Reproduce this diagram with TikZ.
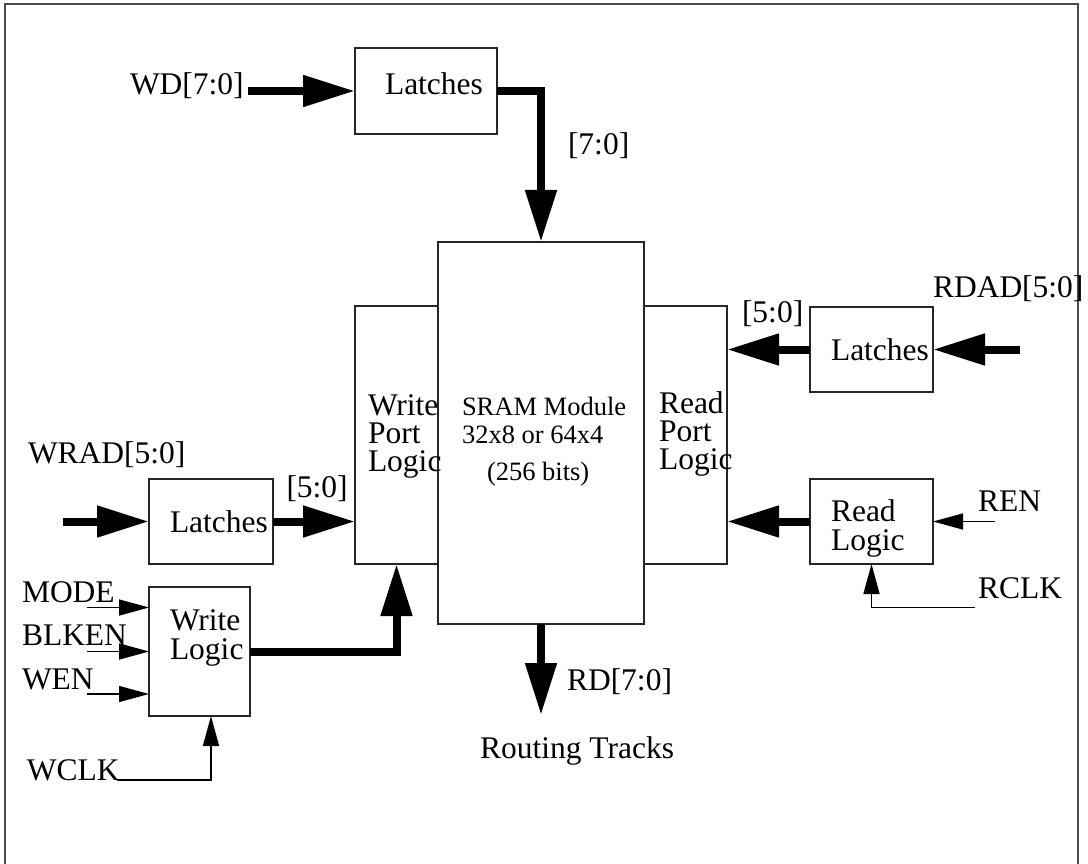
\documentclass[tikz,border=0pt]{standalone}
\usepackage{fontspec}
\setmainfont{Liberation Serif}
\usetikzlibrary{arrows.meta}
\begin{document}
\begin{tikzpicture}[x=1pt,y=-1pt,
  box/.style={draw=black!85,line width=1.5pt,inner sep=0,outer sep=0,anchor=north west},
  lbl/.style={anchor=base west,inner sep=0,outer sep=0,font=\fontsize{31.5}{28}\selectfont,align=left},
  small/.style={lbl,font=\fontsize{26.5}{28}\selectfont},
  bus/.style={line width=8pt,-{Triangle[length=52pt,width=30pt]}},
  sig/.style={line width=1.5pt,-{Triangle[length=30pt,width=16pt]}}]
\clip (0,0) rectangle (1088,864);
\draw[black!70,line width=2pt] (4.5,4.5) rectangle (1077.5,880);
% boxes
\node[box,minimum width=142pt,minimum height=86pt] (topL) at (355,48) {};
\node[box,minimum width=206pt,minimum height=382pt] (sram) at (438,242) {};
\node[box,minimum width=83pt,minimum height=258pt] (wpl) at (355,306) {};
\node[box,minimum width=83pt,minimum height=258pt] (rpl) at (644,306) {};
\node[box,minimum width=124pt,minimum height=85pt] (wradL) at (149,479) {};
\node[box,minimum width=101pt,minimum height=129pt] (wlog) at (149,587) {};
\node[box,minimum width=123pt,minimum height=85pt] (rdadL) at (810,307) {};
\node[box,minimum width=123pt,minimum height=85pt] (rlog) at (810,479) {};
% texts
\node[lbl] (tWD) at (130,95) {WD[7:0]};
\node[lbl] (tTopL) at (385,95) {Latches};
\node[lbl] (t70) at (568,155) {[7:0]};
\node[lbl] (tWRAD) at (28,463) {WRAD[5:0]};
\node[lbl] (tWradL) at (170,532) {Latches};
\node[lbl] (t50a) at (286.5,497) {[5:0]};
\node[lbl] (tMODE) at (22,602) {MODE};
\node[lbl] (tBLKEN) at (22,645) {BLKEN};
\node[lbl] (tWEN) at (22,689) {WEN};
\node[lbl,font=\fontsize{31.5}{29}\selectfont] (tWlog) at (170,659) {Write\\Logic};
\node[lbl] (tWCLK) at (27,780) {WCLK};
\node[lbl] (tWpl) at (368,471) {Write\\Port\\Logic};
\node[small] (tS12) at (462,443) {SRAM Module\\32x8 or 64x4};
\node[small] (tS3) at (487,480) {(256 bits)};
\node[lbl] (tRpl) at (659,469) {Read\\Port\\Logic};
\node[lbl] (tRDAD) at (933,297) {RDAD[5:0]};
\node[lbl] (t50b) at (742,322) {[5:0]};
\node[lbl] (tRdadL) at (831,360) {Latches};
\node[lbl,font=\fontsize{31.5}{28.5}\selectfont] (tRlog) at (831,550) {Read\\Logic};
\node[lbl] (tREN) at (978,511.5) {REN};
\node[lbl] (tRCLK) at (978,598.5) {RCLK};
\node[lbl] (tRD) at (567,690) {RD[7:0]};
\node[lbl] (tRT) at (480,758) {Routing Tracks};
% free ends
\coordinate (wdin) at (248,91);
\coordinate (wradin) at (63,521.5);
\coordinate (modein) at (87,607.5);
\coordinate (blkenin) at (87,651.5);
\coordinate (wenin) at (87,694);
\coordinate (wclkin) at (117,780);
\coordinate (rdadin) at (1020,349.5);
\coordinate (renin) at (995,521.5);
\coordinate (rclkin) at (975,607.5);
\coordinate (rdout) at (541,715);
% connectors
\draw[bus] (wdin) -- (topL.west);
\draw[bus] (topL.east) -| (sram.north);
\draw[bus] (wradin) -- (wradL.west);
\draw[bus] (wradL.east) -- (wradL.east -| wpl.west);
\draw[bus] (wlog.east) -| (wpl.south);
\draw[sig] (modein) -- (modein -| wlog.west);
\draw[sig] (blkenin) -- (blkenin -| wlog.west);
\draw[sig] (wenin) -- (wenin -| wlog.west);
\draw[sig] (wclkin) -| ([xshift=11.5pt]wlog.south);
\draw[bus] (rdadin) -- (rdadL.east);
\draw[bus] (rdadL.west) -- (rdadL.west -| rpl.east);
\draw[bus] (rlog.west) -- (rlog.west -| rpl.east);
\draw[sig] (renin) -- (rlog.east);
\draw[sig] (rclkin) -| (rlog.south);
\draw[bus] (sram.south) -- (rdout);
\end{tikzpicture}
\end{document}
